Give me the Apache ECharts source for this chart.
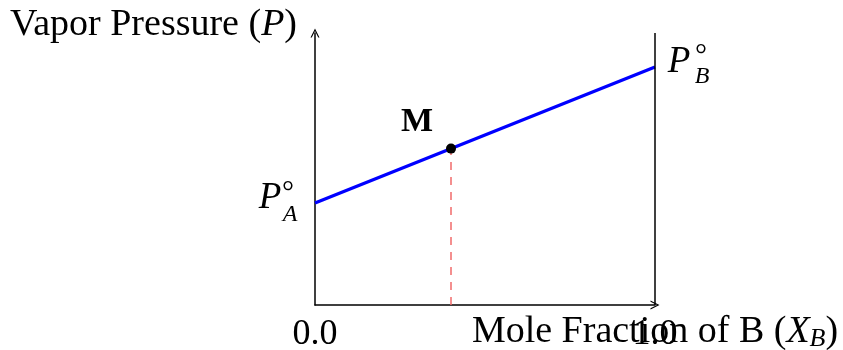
<!DOCTYPE html>
<html>
<head>
<meta charset="utf-8">
<script src="https://cdn.jsdelivr.net/npm/echarts@6/dist/echarts.min.js"></script>
<style>
  html, body { margin: 0; padding: 0; background: #fff; }
  #chart { width: 843px; height: 350px; }
</style>
</head>
<body>
<div id="chart"></div>
<script>
// data
const xRange = [0, 1]
const yRange = [0, 0.8]
const pureA = 0.3          // P°A at X_B = 0
const pureB = 0.7          // P°B at X_B = 1
const mixX = 0.4           // point M
const tickLabels = ['0.0', '1.0']

const raoultLine = [[0, pureA], [1, pureB]]
const mixY = pureA + (pureB - pureA) * mixX
const pointM = [[mixX, mixY]]
const dropLine = [[mixX, 0], [mixX, mixY]]

const serif = '"Liberation Serif", "DejaVu Serif", serif'
// thin open arrow head
const arrowPath = 'path://M0,10 L5,0 L10,10 L8.6,10 L5,2.8 L1.4,10 Z'

let chart = echarts.init(document.getElementById('chart'))

function piece(value, text, style, offset) {
  return {
    value: value,
    label: {
      show: true,
      position: [0, 0],
      align: 'center',
      verticalAlign: 'middle',
      formatter: text,
      offset: offset,
      color: '#000',
      textBorderWidth: 0,
      fontFamily: serif,
      ...style
    }
  }
}

chart.setOption({
  animation: false,
  grid: {
    left: 315, right: 188, top: 33, bottom: 45,
    containLabel: false,
    outerBoundsMode: 'none'
  },
  xAxis: {
    type: 'value',
    min: xRange[0],
    max: xRange[1],
    interval: 1,
    splitLine: { show: false },
    axisTick: { show: false },
    axisLine: {
      lineStyle: { color: '#000', width: 1.5 },
      symbol: ['none', arrowPath],
      symbolSize: [9, 10]
    },
    axisLabel: {
      margin: 12,
      color: '#000',
      fontFamily: serif,
      fontSize: 36,
      formatter: v => tickLabels[Math.round(v)]
    },
    name: '{n|Mole Fraction of B (}{i|X}{s|B}{n|)}',
    nameLocation: 'end',
    nameGap: 0,
    nameMoveOverlap: false,
    nameTextStyle: {
      align: 'center',
      verticalAlign: 'top',
      padding: [8, 0, 0, 0],
      rich: {
        n: { fontFamily: serif, fontSize: 38, color: '#000' },
        i: { fontFamily: serif, fontSize: 38, fontStyle: 'italic', color: '#000' },
        s: { fontFamily: serif, fontSize: 26, fontStyle: 'italic', color: '#000', padding: [13, 0, 0, 0] }
      }
    }
  },
  yAxis: {
    type: 'value',
    min: yRange[0],
    max: yRange[1],
    splitLine: { show: false },
    axisTick: { show: false },
    axisLabel: { show: false },
    axisLine: {
      lineStyle: { color: '#000', width: 1.5 },
      symbol: ['none', arrowPath],
      symbolSize: [9, 10]
    },
    name: '{n|Vapor Pressure (}{i|P}{n|)}',
    nameLocation: 'end',
    nameGap: 8,
    nameMoveOverlap: false,
    nameTextStyle: {
      align: 'right',
      verticalAlign: 'middle',
      padding: [0, 18, 0, 0],
      rich: {
        n: { fontFamily: serif, fontSize: 38, color: '#000' },
        i: { fontFamily: serif, fontSize: 38, fontStyle: 'italic', color: '#000' }
      }
    }
  },
  series: [
    {
      // Raoult's law line
      type: 'line',
      data: raoultLine,
      symbol: 'none',
      lineStyle: { color: '#0000ff', width: 3.2 },
      z: 3,
      markLine: {
        silent: true,
        symbol: 'none',
        label: { show: false },
        lineStyle: { color: '#000', width: 1.5, type: 'solid' },
        data: [{ xAxis: xRange[1] }]
      }
    },
    {
      // dashed drop from M
      type: 'line',
      data: dropLine,
      symbol: 'none',
      lineStyle: { color: '#f06a6a', width: 1.5, type: [8, 7] },
      z: 2
    },
    {
      type: 'scatter',
      data: pointM,
      symbolSize: 10,
      itemStyle: { color: '#000', opacity: 1 },
      z: 5,
      label: {
        show: true,
        position: [5, 5],
        align: 'center',
        verticalAlign: 'middle',
        formatter: 'M',
        offset: [-34, -26],
        color: '#000',
        textBorderWidth: 0,
        fontFamily: serif,
        fontWeight: 'bold',
        fontSize: 34
      }
    },
    {
      // P°A and P°B annotations
      type: 'scatter',
      symbolSize: 0,
      silent: true,
      itemStyle: { opacity: 1 },
      z: 6,
      data: [
        piece(raoultLine[0], 'P', { fontSize: 37, fontStyle: 'italic' }, [-45, -5]),
        piece(raoultLine[0], '°', { fontSize: 30 }, [-27, -10]),
        piece(raoultLine[0], 'A', { fontSize: 24, fontStyle: 'italic' }, [-25, 12]),
        piece(raoultLine[1], 'P', { fontSize: 37, fontStyle: 'italic' }, [24, -5]),
        piece(raoultLine[1], '°', { fontSize: 30 }, [46, -11]),
        piece(raoultLine[1], 'B', { fontSize: 24, fontStyle: 'italic' }, [47, 10])
      ]
    }
  ]
})
</script>
</body>
</html>
